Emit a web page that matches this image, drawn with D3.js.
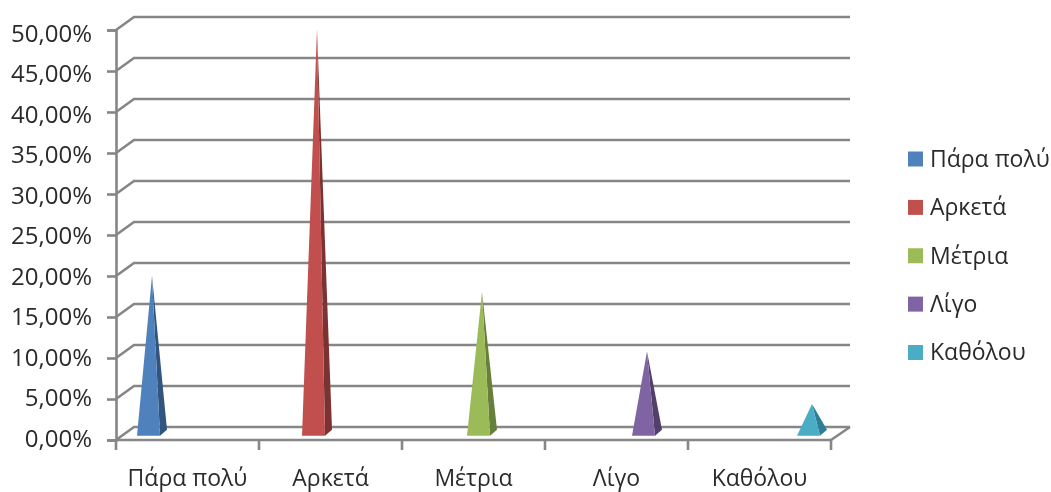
<!DOCTYPE html>
<html><head><meta charset="utf-8">
<script src="https://cdn.jsdelivr.net/npm/d3@7"></script>
<style>
html,body{margin:0;padding:0;background:#fff;overflow:hidden}
svg{display:block}
text{font-family:"Open Sans","Noto Sans",sans-serif;fill:#2b2b2b;font-size:23px}
</style></head><body>
<svg id="c" width="1051" height="492"></svg>
<script>
const categories = ["Πάρα πολύ","Αρκετά","Μέτρια","Λίγο","Καθόλου"];
const values = [19.2,49.3,17.3,10.0,3.6];
const colors = ["#4F81BD","#C0504D","#9BBB59","#8064A2","#4BACC6"];
const darkColors = ["#30557F","#7C3230","#66803A","#523F6B","#2E7F96"];
const yTicks = [0,5,10,15,20,25,30,35,40,45,50];

const svg = d3.select("#c");
const defs = svg.append("defs");
defs.append("filter").attr("id","soft").append("feGaussianBlur").attr("stdDeviation",0.55);
const root = svg.append("g").attr("filter","url(#soft)");

const depthX = 18, depthY = 13;
const x = d3.scaleBand().domain(categories).range([116,831]);
const series = d3.scaleBand().domain(categories).range([-55,55]);
const y = d3.scaleLinear().domain([0,50]).range([440,30]);
const labelY = d3.scaleLinear().domain([0,50]).range([438,32.5]);
const axisColor = "#868686";

// back wall gridlines and side-wall diagonals
const grid = root.append("g").attr("stroke",axisColor).attr("stroke-width",2.6).attr("fill","none");
grid.selectAll("path.g").data(yTicks).join("path").attr("class","g")
  .attr("d",d=>`M${x.range()[0]},${y(d)}L${x.range()[0]+depthX},${y(d)-depthY}L${x.range()[1]+depthX+1},${y(d)-depthY}`);
grid.append("path").attr("d",`M${x.range()[1]},${y(0)}L${x.range()[1]+depthX+1},${y(0)-depthY}`);

// y axis
const yAxis = d3.axisLeft(y).tickValues(yTicks).tickSize(9).tickPadding(15)
  .tickFormat(d=>d3.format(".2f")(d).replace(".",",")+"%");
const gy = root.append("g").attr("transform",`translate(${x.range()[0]},0)`).call(yAxis);
gy.selectAll("line,path").attr("stroke",axisColor).attr("stroke-width",2.6);
gy.selectAll("text").attr("fill","#2b2b2b").style("font-size","24px").attr("dy","0.3em")
  .attr("y",d=>labelY(d)-y(d)+1.3);

// x axis
const gx = root.append("g").attr("stroke",axisColor).attr("stroke-width",2.6);
gx.append("line").attr("x1",x.range()[0]).attr("x2",x.range()[1]).attr("y1",y(0)).attr("y2",y(0));
const edges = categories.map(c=>x(c)).concat([x.range()[1]]);
gx.selectAll("line.t").data(edges).join("line").attr("class","t")
  .attr("x1",d=>d).attr("x2",d=>d).attr("y1",y(0)).attr("y2",y(0)+10);
root.append("g").selectAll("text").data(categories).join("text")
  .attr("x",d=>x(d)+x.bandwidth()/2).attr("y",485.5).attr("text-anchor","middle").text(d=>d);

// pyramids
const halfW = 11.5, sideX = 7, sideY = 6, baseDrop = 4.3;
const pyr = root.append("g").selectAll("g").data(categories.map((c,i)=>({c,i,v:values[i]}))).join("g")
  .attr("transform",d=>`translate(${x(d.c)+x.bandwidth()/2+series(d.c)+series.bandwidth()/2+5},0)`);
const baseY = y(0)-baseDrop;
const apexY = d=>y(d.v)-depthY/2;
const apexX = sideX/2;
pyr.append("path").attr("fill",(d)=>darkColors[d.i])
  .attr("d",d=>`M${halfW},${baseY}L${halfW+sideX},${baseY-sideY}L${apexX},${apexY(d)}Z`);
pyr.append("path").attr("fill",(d)=>colors[d.i])
  .attr("d",d=>`M${-halfW},${baseY}L${halfW},${baseY}L${apexX},${apexY(d)}Z`);

// legend
const legendY = d3.scalePoint().domain(categories).range([159,352.5]);
const lg = root.append("g").selectAll("g").data(categories).join("g")
  .attr("transform",d=>`translate(908,${legendY(d)})`);
lg.append("rect").attr("x",0).attr("y",-7.5).attr("width",15).attr("height",15)
  .attr("fill",(d,i)=>colors[i]);
lg.append("text").attr("x",22).attr("dy","0.34em").text(d=>d);
</script></body></html>
